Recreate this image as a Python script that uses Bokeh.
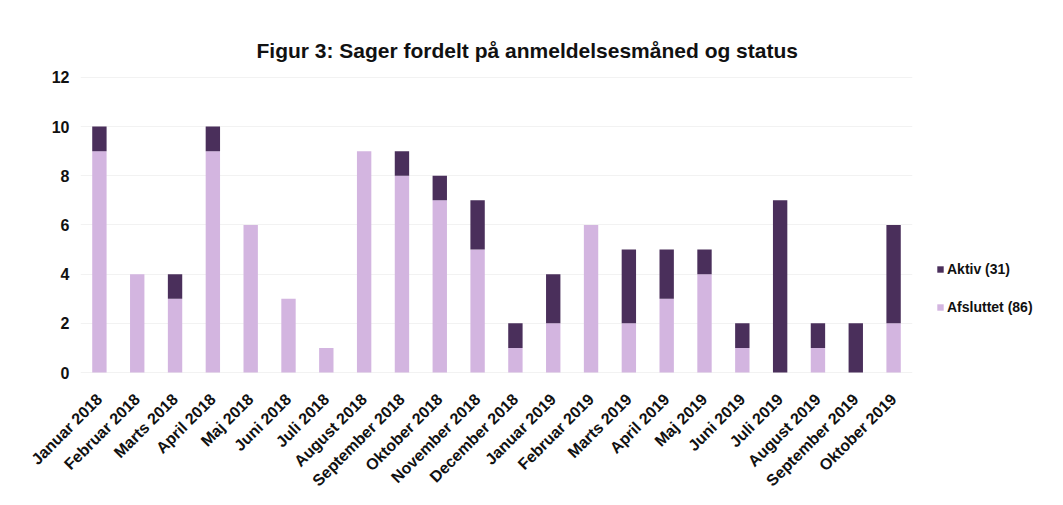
import math
from bokeh.plotting import figure
from bokeh.models import FactorRange, Range1d, Legend, LegendItem, ColumnDataSource
from bokeh.embed import file_html
from bokeh.resources import INLINE

months = ["Januar 2018", "Februar 2018", "Marts 2018", "April 2018", "Maj 2018", "Juni 2018",
          "Juli 2018", "August 2018", "September 2018", "Oktober 2018", "November 2018",
          "December 2018", "Januar 2019", "Februar 2019", "Marts 2019", "April 2019",
          "Maj 2019", "Juni 2019", "Juli 2019", "August 2019", "September 2019", "Oktober 2019"]
afsluttet = [9, 4, 3, 9, 6, 3, 1, 9, 8, 7, 5, 1, 2, 6, 2, 3, 4, 1, 0, 1, 0, 2]
aktiv = [1, 0, 1, 1, 0, 0, 0, 0, 1, 1, 2, 1, 2, 0, 3, 2, 1, 1, 7, 1, 2, 4]
series = ["Afsluttet", "Aktiv"]
legend_labels = ["Aktiv (31)", "Afsluttet (86)"]
y_ticks = [0, 2, 4, 6, 8, 10, 12]

light = "#D3B5E0"
dark = "#4A2F5B"
FONT = "Liberation Sans"

src = ColumnDataSource(dict(month=months, Afsluttet=afsluttet, Aktiv=aktiv))

p = figure(x_range=FactorRange(*months), y_range=Range1d(-0.2, 12.4),
           width=1045, height=487, frame_width=832, frame_height=310,
           output_backend="svg", toolbar_location=None,
           min_border_left=80, min_border_top=67, min_border_bottom=5, min_border_right=10)

rs = p.vbar_stack(series, x="month", width=0.38, source=src, color=[light, dark], line_color=None)

p.title.text = "Figur 3: Sager fordelt på anmeldelsesmåned og status"
p.title.align = "left"
p.title.offset = 176
p.title.text_font = FONT
p.title.text_font_size = "21px"
p.title.text_font_style = "bold"
p.title.text_color = "#111111"
p.title.standoff = 12

p.yaxis.ticker = y_ticks
p.yaxis.axis_line_color = None
p.yaxis.major_tick_line_color = None
p.yaxis.minor_tick_line_color = None
p.yaxis.major_label_text_font = FONT
p.yaxis.major_label_text_font_size = "16px"
p.yaxis.major_label_text_font_style = "bold"
p.yaxis.major_label_text_color = "#111111"
p.yaxis.major_label_standoff = 5

p.xaxis.axis_line_color = None
p.xaxis.major_tick_line_color = None
p.xaxis.major_label_orientation = math.pi / 4
p.xaxis.major_label_text_font = FONT
p.xaxis.major_label_text_font_size = "16px"
p.xaxis.major_label_text_font_style = "bold"
p.xaxis.major_label_text_color = "#111111"
p.xaxis.major_label_standoff = 13

p.xgrid.grid_line_color = None
p.ygrid.grid_line_color = "#f2f2f2"
p.outline_line_color = None

legend = Legend(items=[LegendItem(label=legend_labels[0], renderers=[rs[1]]),
                       LegendItem(label=legend_labels[1], renderers=[rs[0]])],
                location=(24, 62), border_line_color=None, background_fill_alpha=0,
                label_text_font=FONT, label_text_font_size="14px", label_text_font_style="bold",
                label_text_color="#111111", glyph_width=8, glyph_height=8, label_standoff=3,
                spacing=22, padding=4, margin=0)
p.add_layout(legend, "right")

open("out.html", "w").write(file_html(p, INLINE))
